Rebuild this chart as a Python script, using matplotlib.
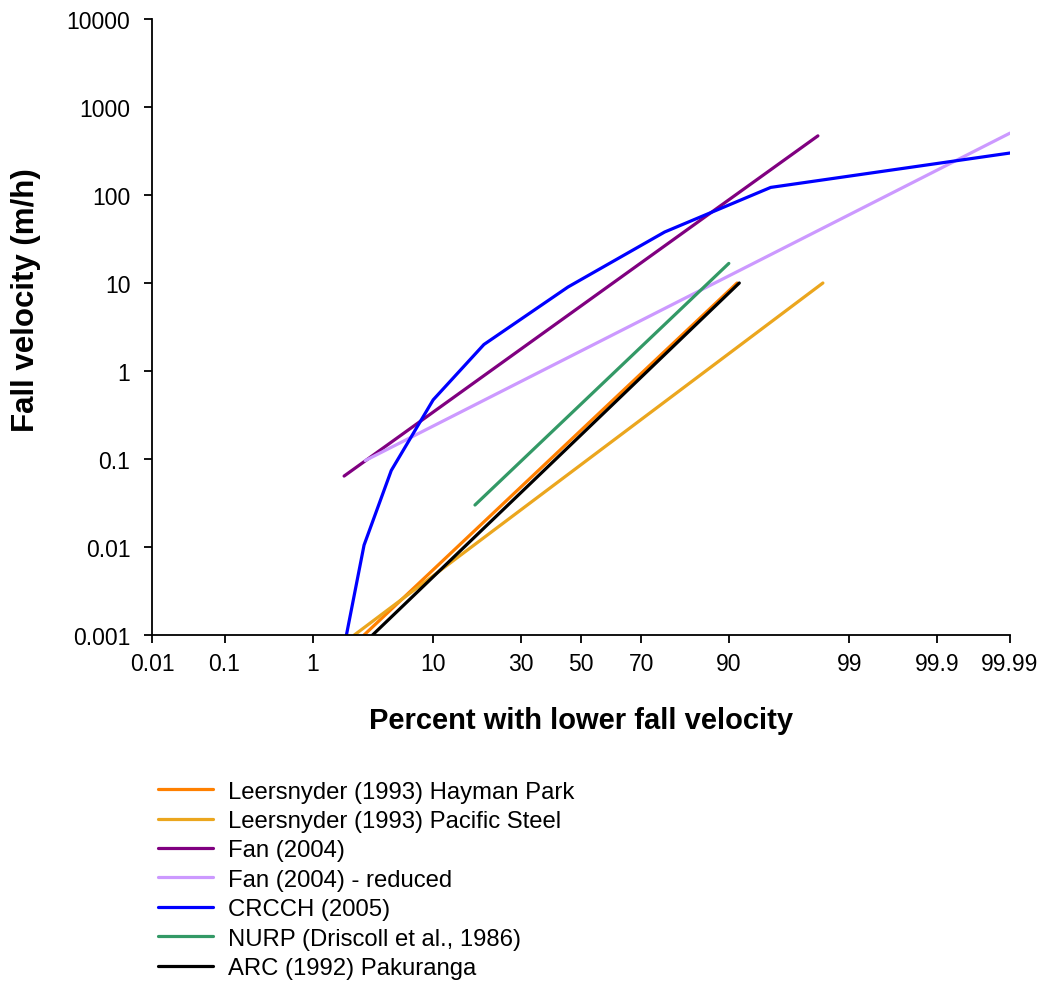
import numpy as np
import matplotlib
matplotlib.use('Agg')
import matplotlib.pyplot as plt
from matplotlib.ticker import FixedLocator, FixedFormatter, NullLocator
from statistics import NormalDist

plt.rcParams['font.family'] = ['Liberation Sans', 'DejaVu Sans']

# Percent with lower fall velocity / fall velocity (m/h) for each source
hayman_pct = [3.0, 91.2]
hayman_vel = [0.001, 10]

pacific_pct = [2.47, 98.2]
pacific_vel = [0.001, 10]

fan_pct = [2.0, 98.0]
fan_vel = [0.064, 470]

fan_red_pct = [3.07, 99.99]
fan_red_vel = [0.096, 505]

crcch_pct = [2.1, 3.0, 5.0, 10.0, 20.0, 45.5, 76.6, 95.0, 99.99]
crcch_vel = [0.001, 0.0105, 0.074, 0.47, 2.0, 9.0, 38, 122, 300]

nurp_pct = [17.9, 90.0]
nurp_vel = [0.030, 16.7]

arc_pct = [3.54, 91.5]
arc_vel = [0.001, 10]

x_ticks = [0.01, 0.1, 1, 10, 30, 50, 70, 90, 99, 99.9, 99.99]
x_tick_labels = ['0.01', '0.1', '1', '10', '30', '50', '70', '90', '99', '99.9', '99.99']
y_ticks = [0.001, 0.01, 0.1, 1, 10, 100, 1000, 10000]
y_tick_labels = ['0.001', '0.01', '0.1', '1', '10', '100', '1000', '10000']

nd = NormalDist()
_ppf = np.vectorize(lambda p: nd.inv_cdf(p), otypes=[float])
_cdf = np.vectorize(lambda z: nd.cdf(z), otypes=[float])


def pct_to_z(p):
    # normal probability axis: percent -> standard normal quantile
    p = np.clip(np.asarray(p, dtype=float), 1e-9, 100 - 1e-9)
    return _ppf(p / 100.0)


def z_to_pct(z):
    return 100.0 * _cdf(np.asarray(z, dtype=float))


fig = plt.figure(figsize=(10.46, 9.87), dpi=100)
ax = fig.add_axes([152 / 1046, 1 - 636 / 987, (1010 - 152) / 1046, (636 - 20) / 987])

series = [
    (hayman_pct, hayman_vel, '#FF8000', 'Leersnyder (1993) Hayman Park'),
    (pacific_pct, pacific_vel, '#EBA61E', 'Leersnyder (1993) Pacific Steel'),
    (fan_pct, fan_vel, '#800080', 'Fan (2004)'),
    (fan_red_pct, fan_red_vel, '#CC99FF', 'Fan (2004) - reduced'),
    (crcch_pct, crcch_vel, '#0000FF', 'CRCCH (2005)'),
    (nurp_pct, nurp_vel, '#339966', 'NURP (Driscoll et al., 1986)'),
    (arc_pct, arc_vel, '#000000', 'ARC (1992) Pakuranga'),
]
for pct, vel, col, lab in series:
    ax.plot(pct, vel, color=col, lw=2.3, label=lab, solid_capstyle='round')

ax.set_xscale('function', functions=(pct_to_z, z_to_pct))
ax.set_yscale('log')
ax.set_xlim(0.01, 99.99)
ax.set_ylim(0.001, 10000)

ax.xaxis.set_major_locator(FixedLocator(x_ticks))
ax.xaxis.set_major_formatter(FixedFormatter(x_tick_labels))
ax.xaxis.set_minor_locator(NullLocator())
ax.yaxis.set_major_locator(FixedLocator(y_ticks))
ax.yaxis.set_major_formatter(FixedFormatter(y_tick_labels))
ax.yaxis.set_minor_locator(NullLocator())

for s in ['top', 'right']:
    ax.spines[s].set_visible(False)
for s in ['left', 'bottom']:
    ax.spines[s].set_linewidth(1.3)
ax.tick_params(direction='out', length=6, width=1.3, labelsize=16.5)
ax.tick_params(axis='y', pad=9.5)
ax.tick_params(axis='x', pad=6)

ax.set_xlabel('Percent with lower fall velocity', fontsize=21, fontweight='bold')
ax.xaxis.set_label_coords(0.5, (636 - 707) / 616)
ax.set_ylabel('Fall velocity (m/h)', fontsize=22.5, fontweight='bold')
ax.yaxis.set_label_coords((41 - 152) / 858, (636 - 300) / 616)

fig.legend(loc='upper left', bbox_to_anchor=(136 / 1046, 1 - 760 / 987), frameon=False,
           fontsize=17.2, handlelength=2.34, handletextpad=0.62, labelspacing=0.31)

fig.savefig('out.png', dpi=100)
